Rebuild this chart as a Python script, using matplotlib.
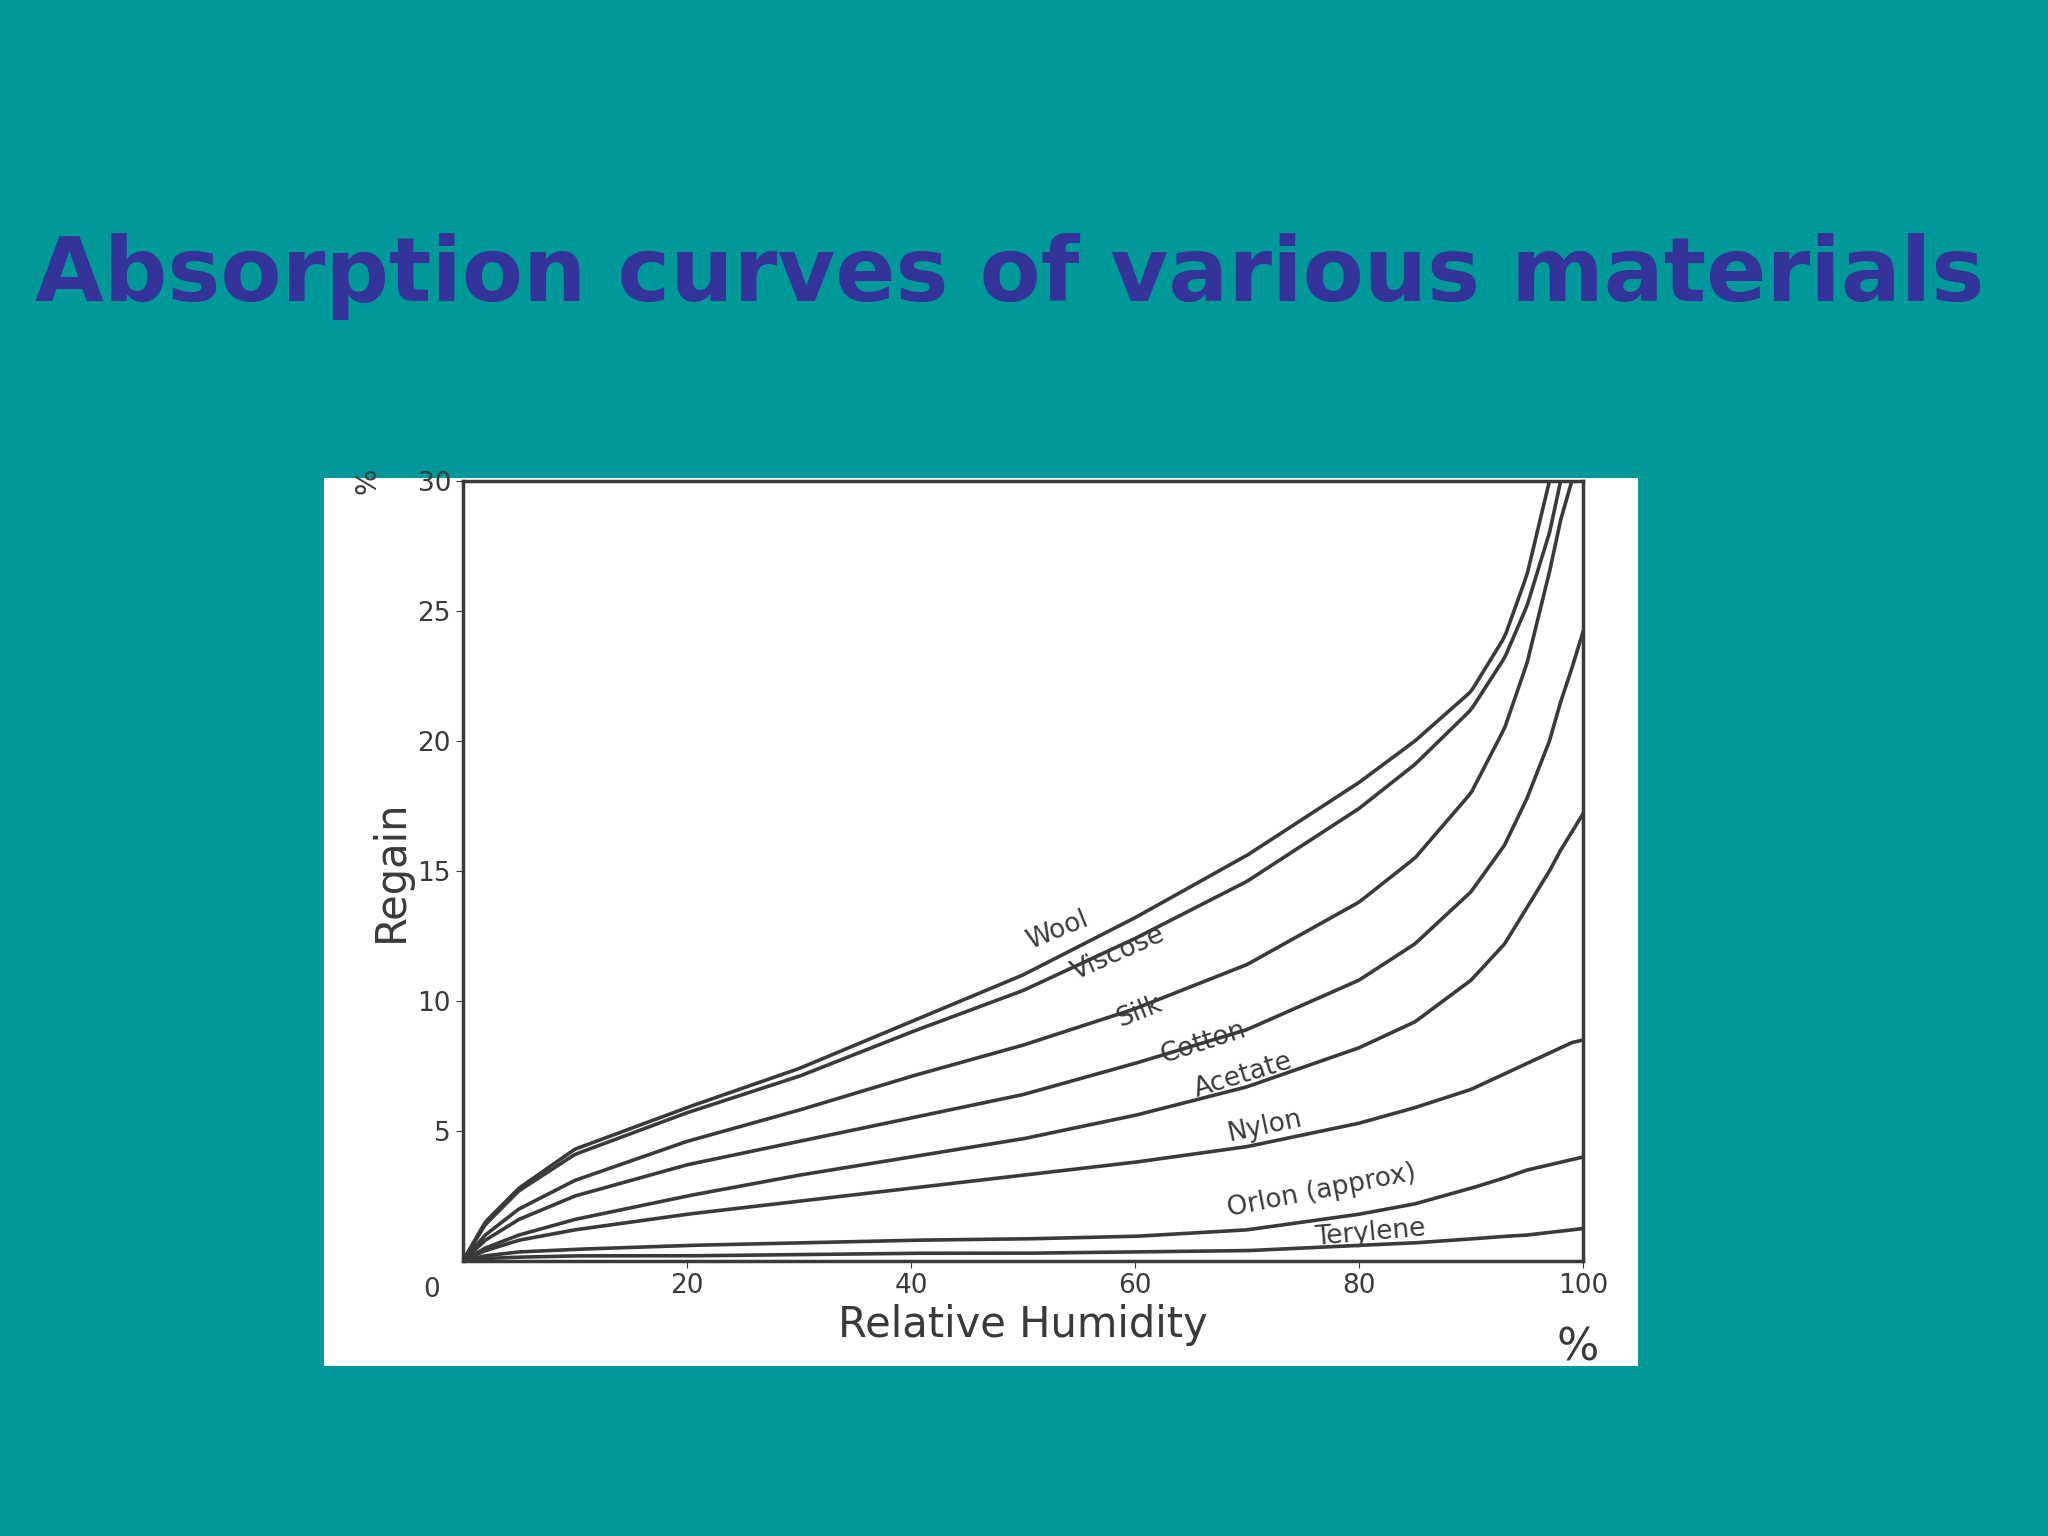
import matplotlib
matplotlib.use("Agg")
import matplotlib.pyplot as plt
import numpy as np

rh = [0, 2, 5, 10, 20, 30, 40, 50, 60, 70, 80, 85, 90, 93, 95, 97, 98, 99, 100]
wool     = [0, 1.5, 2.8, 4.3, 5.9, 7.4, 9.2, 11.0, 13.2, 15.6, 18.4, 20.0, 21.9, 24.0, 26.4, 30.0, None, None, None]
viscose  = [0, 1.4, 2.7, 4.1, 5.7, 7.1, 8.8, 10.4, 12.4, 14.6, 17.4, 19.1, 21.2, 23.2, 25.2, 28.0, 30.0, None, None]
silk     = [0, 1.0, 2.0, 3.1, 4.6, 5.8, 7.1, 8.3, 9.7, 11.4, 13.8, 15.5, 18.0, 20.5, 23.0, 26.5, 28.5, 30.0, None]
cotton   = [0, 0.8, 1.6, 2.5, 3.7, 4.6, 5.5, 6.4, 7.6, 8.9, 10.8, 12.2, 14.2, 16.0, 17.8, 20.0, 21.5, 22.8, 24.2]
acetate  = [0, 0.5, 1.0, 1.6, 2.5, 3.3, 4.0, 4.7, 5.6, 6.7, 8.2, 9.2, 10.8, 12.2, 13.6, 15.0, 15.8, 16.5, 17.2]
nylon    = [0, 0.4, 0.8, 1.2, 1.8, 2.3, 2.8, 3.3, 3.8, 4.4, 5.3, 5.9, 6.6, 7.2, 7.6, 8.0, 8.2, 8.4, 8.5]
orlon    = [0, 0.2, 0.35, 0.45, 0.6, 0.7, 0.8, 0.85, 0.95, 1.2, 1.8, 2.2, 2.8, 3.2, 3.5, 3.7, 3.8, 3.9, 4.0]
terylene = [0, 0.1, 0.15, 0.2, 0.2, 0.25, 0.3, 0.3, 0.35, 0.4, 0.6, 0.7, 0.85, 0.95, 1.0, 1.1, 1.15, 1.2, 1.25]
series = [wool, viscose, silk, cotton, acetate, nylon, orlon, terylene]
labels = ["Wool", "Viscose", "Silk", "Cotton", "Acetate", "Nylon", "Orlon (approx)", "Terylene"]
label_pos = [(50, 11.8, 22), (54, 10.6, 24), (58, 8.8, 22), (62, 7.4, 18), (65, 6.1, 17), (68, 4.4, 12), (68, 1.5, 11), (76, 0.4, 5)]

fig = plt.figure(figsize=(20.48, 15.36), dpi=100, facecolor="#009999")
fig.text(0.493, 0.82, "Absorption curves of various materials", ha="center", va="center",
         fontsize=64, fontweight="bold", color="#333399", family="DejaVu Sans")
bg = fig.add_axes([0.158, 0.111, 0.642, 0.578], zorder=0)
bg.set_facecolor("white")
bg.axis("off")
bg.patch.set_visible(True)
bg.add_patch(plt.Rectangle((0, 0), 1, 1, transform=bg.transAxes, facecolor="white", edgecolor="none"))
ax = fig.add_axes([0.226, 0.179, 0.547, 0.508], zorder=1)
ax.set_facecolor("white")
ink = "#3a3a3a"
for s in series:
    x = [r for r, v in zip(rh, s) if v is not None]
    y = [v for v in s if v is not None]
    xs = np.linspace(0, x[-1], 300)
    ax.plot(xs, np.interp(xs, x, y), color=ink, lw=2.6)
for lab, (x, y, rot) in zip(labels, label_pos):
    ax.text(x, y, lab, rotation=rot, fontsize=19, color=ink, ha="left", va="bottom")
ax.set_xlim(0, 100)
ax.set_ylim(0, 30)
ax.set_xticks([20, 40, 60, 80, 100])
ax.set_yticks([5, 10, 15, 20, 25, 30])
ax.tick_params(labelsize=19, colors=ink, length=5)
for sp in ax.spines.values():
    sp.set_color(ink); sp.set_linewidth(2.5)
ax.text(-2, -0.6, "0", fontsize=19, color=ink, ha="right", va="top")
ax.set_xlabel("Relative Humidity", fontsize=30, color=ink)
ax.set_ylabel("Regain", fontsize=30, color=ink)
ax.text(99.5, -2.5, "%", fontsize=32, color=ink, ha="center", va="top")
ax.text(-8.5, 30, "%", fontsize=20, color=ink, ha="center", va="center", rotation=90)
fig.savefig("out.png", dpi=100, facecolor=fig.get_facecolor())
